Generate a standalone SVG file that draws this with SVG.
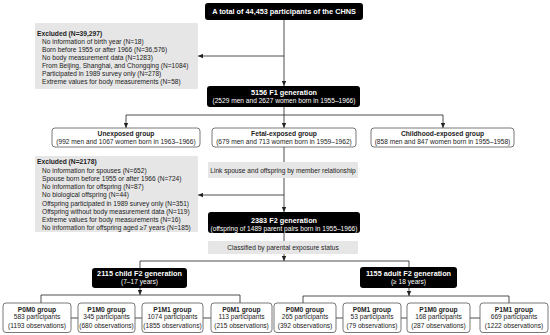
<svg xmlns="http://www.w3.org/2000/svg" width="550" height="335" viewBox="0 0 550 335">
<defs>
<marker id="arr" viewBox="0 0 6 6" refX="6" refY="3" markerWidth="5" markerHeight="5" orient="auto" markerUnits="userSpaceOnUse">
<path d="M0,0.4 L6,3 L0,5.6 Z" fill="#222"/>
</marker>
<style>
text{font-family:"Liberation Sans",Arial,sans-serif;fill:#222}
.blk{fill:#000;stroke:none}
.wht{fill:#fff;stroke:#555;stroke-width:0.8}
.gry{fill:#e6e6e6;stroke:none}
.tw{fill:#fff;font-weight:bold;font-size:7.3px;text-anchor:middle}
.sw{fill:#fff;font-size:6.6px;text-anchor:middle}
.tb{font-weight:bold;font-size:6.7px;text-anchor:middle}
.r{font-size:6.6px;text-anchor:middle}
.lb{font-weight:bold;font-size:6.7px}
.l{font-size:6.6px}
.c line,.c path{stroke:#222;stroke-width:0.8;fill:none}
</style>
</defs>
<g class="c" id="connectors">
<line x1="284" y1="20" x2="284" y2="86" marker-end="url(#arr)"/>
<line x1="284" y1="56" x2="198" y2="56" marker-end="url(#arr)"/>
<line x1="284" y1="107" x2="284" y2="115"/>
<line x1="126" y1="115" x2="443" y2="115"/>
<line x1="126" y1="115" x2="126" y2="128" marker-end="url(#arr)"/>
<line x1="284" y1="115" x2="284" y2="128" marker-end="url(#arr)"/>
<line x1="443" y1="115" x2="443" y2="128" marker-end="url(#arr)"/>
<line x1="284" y1="147" x2="284" y2="212" marker-end="url(#arr)"/>
<line x1="284" y1="195" x2="198" y2="195" marker-end="url(#arr)"/>
<line x1="284" y1="233" x2="284" y2="261" marker-end="url(#arr)"/>
<path d="M140,268 V261 H409 V267"/>
<line x1="140" y1="288" x2="140" y2="295" marker-end="url(#arr)"/>
<path d="M41,303 V295 H240 V303"/>
<line x1="409" y1="288" x2="409" y2="296" marker-end="url(#arr)"/>
<path d="M303,303 V296 H509 V303"/>
<line x1="71" y1="318" x2="78" y2="318"/>
<line x1="135" y1="318" x2="142" y2="318"/>
<line x1="203" y1="318" x2="211" y2="318"/>
<line x1="336" y1="318" x2="343" y2="318"/>
<line x1="401" y1="318" x2="407" y2="318"/>
<line x1="470" y1="318" x2="480" y2="318"/>
</g>
<g id="total">
<rect class="blk" x="205" y="3" width="158" height="17" rx="3"/>
<text class="tw" x="284" y="14.2">A total of 44,453 participants of the CHNS</text>
</g>
<g id="excluded1">
<rect class="gry" x="35" y="23" width="163" height="66" rx="1"/>
<text class="lb" x="37" y="36.3">Excluded (N=39,297)</text>
<text class="l" x="42" y="44.3">No information of birth year (N=18)</text>
<text class="l" x="42" y="52.3">Born before 1955 or after 1966 (N=36,576)</text>
<text class="l" x="42" y="60.3">No body measurement data (N=1283)</text>
<text class="l" x="42" y="68.3">From Beijing, Shanghai, and Chongqing (N=1084)</text>
<text class="l" x="42" y="76.3">Participated in 1989 survey only (N=278)</text>
<text class="l" x="42" y="84.3">Extreme values for body measurements (N=58)</text>
</g>
<g id="f1">
<rect class="blk" x="207" y="86" width="153" height="21" rx="3"/>
<text class="tw" x="284" y="94.6">5156 F1 generation</text>
<text class="sw" x="284" y="102.6">(2529 men and 2627 women born in 1955–1966)</text>
</g>
<g id="unexposed">
<rect class="wht" x="52" y="128" width="148" height="19" rx="3"/>
<text class="tb" x="126" y="136">Unexposed group</text>
<text class="r" x="126" y="144.2">(992 men and 1067 women born in 1963–1966)</text>
</g>
<g id="fetal">
<rect class="wht" x="212" y="128" width="144" height="19" rx="3"/>
<text class="tb" x="284" y="136">Fetal-exposed group</text>
<text class="r" x="284" y="144.2">(679 men and 713 women born in 1959–1962)</text>
</g>
<g id="childhood">
<rect class="wht" x="371" y="128" width="143" height="19" rx="3"/>
<text class="tb" x="442.5" y="136">Childhood-exposed group</text>
<text class="r" x="442.5" y="144.2">(858 men and 847 women born in 1955–1958)</text>
</g>
<g id="link">
<rect class="gry" x="208" y="162" width="150" height="16" rx="1"/>
<text class="r" x="283" y="172.8">Link spouse and offspring by member relationship</text>
</g>
<g id="excluded2">
<rect class="gry" x="35" y="156" width="163" height="76" rx="1"/>
<text class="lb" x="37" y="164.3">Excluded (N=2178)</text>
<text class="l" x="42" y="172.5">No information for spouses (N=652)</text>
<text class="l" x="42" y="180.8">Spouse born before 1955 or after 1966 (N=724)</text>
<text class="l" x="42" y="189">No information for offspring (N=87)</text>
<text class="l" x="42" y="197.3">No biological offspring (N=44)</text>
<text class="l" x="42" y="205.5">Offspring participated in 1989 survey only (N=351)</text>
<text class="l" x="42" y="213.8">Offspring without body measurement data (N=119)</text>
<text class="l" x="42" y="222">Extreme values for body measurements (N=16)</text>
<text class="l" x="42" y="230.3">No information for offspring aged ≥7 years (N=185)</text>
</g>
<g id="f2">
<rect class="blk" x="208" y="212" width="152" height="21" rx="3"/>
<text class="tw" x="284" y="222.5">2383 F2 generation</text>
<text class="sw" x="284" y="230.6">(offspring of 1489 parent pairs born in 1955–1966)</text>
</g>
<g id="classified">
<rect class="gry" x="208" y="241" width="150" height="13" rx="1"/>
<text class="r" x="283" y="249.6">Classified by parental exposure status</text>
</g>
<g id="child">
<rect class="blk" x="92" y="268" width="95" height="20" rx="3"/>
<text class="tw" x="139.5" y="276">2115 child F2 generation</text>
<text class="sw" x="139.5" y="284.2">(7–17 years)</text>
</g>
<g id="adult">
<rect class="blk" x="360" y="267" width="97" height="21" rx="3"/>
<text class="tw" x="408.5" y="275.6">1155 adult F2 generation</text>
<text class="sw" x="408.5" y="283.8">(≥ 18 years)</text>
</g>
<g id="c-p0m0">
<rect class="wht" x="3" y="303" width="68" height="29.5" rx="3"/>
<text class="tb" x="37" y="311.5">P0M0 group</text>
<text class="r" x="37" y="319.2">583 participants</text>
<text class="r" x="37" y="327.5">(1193 observations)</text>
</g>
<g id="c-p1m0">
<rect class="wht" x="78" y="303" width="57" height="29.5" rx="3"/>
<text class="tb" x="106.5" y="311.5">P1M0 group</text>
<text class="r" x="106.5" y="319.2">345 participants</text>
<text class="r" x="106.5" y="327.5">(680 observations)</text>
</g>
<g id="c-p1m1">
<rect class="wht" x="142" y="303" width="61" height="29.5" rx="3"/>
<text class="tb" x="172.5" y="311.5">P1M1 group</text>
<text class="r" x="172.5" y="319.2">1074 participants</text>
<text class="r" x="172.5" y="327.5">(1855 observations)</text>
</g>
<g id="c-p0m1">
<rect class="wht" x="211" y="303" width="61" height="29.5" rx="3"/>
<text class="tb" x="241.5" y="311.5">P0M1 group</text>
<text class="r" x="241.5" y="319.2">113 participants</text>
<text class="r" x="241.5" y="327.5">(215 observations)</text>
</g>
<g id="a-p0m0">
<rect class="wht" x="274" y="303" width="62" height="29.5" rx="3"/>
<text class="tb" x="305" y="311.5">P0M0 group</text>
<text class="r" x="305" y="319.2">265 participants</text>
<text class="r" x="305" y="327.5">(392 observations)</text>
</g>
<g id="a-p0m1">
<rect class="wht" x="343" y="303" width="58" height="29.5" rx="3"/>
<text class="tb" x="372" y="311.5">P0M1 group</text>
<text class="r" x="372" y="319.2">53 participants</text>
<text class="r" x="372" y="327.5">(79 observations)</text>
</g>
<g id="a-p1m0">
<rect class="wht" x="407" y="303" width="63" height="29.5" rx="3"/>
<text class="tb" x="438.5" y="311.5">P1M0 group</text>
<text class="r" x="438.5" y="319.2">168 participants</text>
<text class="r" x="438.5" y="327.5">(287 observations)</text>
</g>
<g id="a-p1m1">
<rect class="wht" x="480" y="303" width="68" height="29.5" rx="3"/>
<text class="tb" x="514" y="311.5">P1M1 group</text>
<text class="r" x="514" y="319.2">669 participants</text>
<text class="r" x="514" y="327.5">(1222 observations)</text>
</g>
</svg>
